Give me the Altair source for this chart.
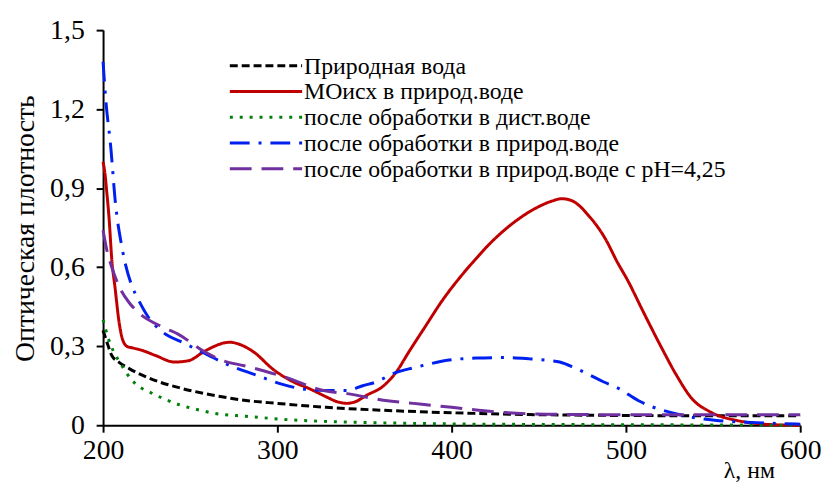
import altair as alt
import pandas as pd

series_names = [
    "Природная вода",
    "МОисх  в природ.воде",
    "после обработки в дист.воде",
    "после обработки в природ.воде",
    "после обработки в природ.воде с рН=4,25",
]
colors = ["#000000", "#c00000", "#00800a", "#0020f0", "#7030a0"]
dashes = [[8, 4], [1, 0], [3, 7], [20, 9, 3, 9], [22, 10]]

# Природная вода
wl_black = [200, 202, 205, 209, 215, 226, 245, 264, 282, 300, 328, 360, 413, 450, 500, 550, 600]
ab_black = [0.36, 0.32, 0.265, 0.24, 0.215, 0.18, 0.14, 0.113, 0.094, 0.083, 0.068, 0.057, 0.045, 0.04, 0.037, 0.036, 0.036]

# МОисх в природ.воде
wl_red = [200, 201, 202.2, 203.4, 205, 207, 209, 211, 213.6, 218, 222, 230, 241, 249, 258, 264, 269, 273,
          277, 286, 298, 309, 318, 328, 334, 340, 345, 351, 361, 368, 375.6, 385, 395, 404, 413, 422, 431,
          441, 450, 458, 463, 468, 473, 478, 483, 488, 495, 501, 510, 520, 529, 538, 548, 556, 563, 574,
          585, 600]
ab_red = [1.0, 0.96, 0.88, 0.79, 0.63, 0.515, 0.40, 0.33, 0.30, 0.292, 0.285, 0.265, 0.24, 0.245, 0.28,
          0.30, 0.312, 0.315, 0.31, 0.28, 0.21, 0.165, 0.14, 0.108, 0.09, 0.083, 0.09, 0.113, 0.15, 0.20,
          0.28, 0.376, 0.477, 0.555, 0.625, 0.69, 0.745, 0.795, 0.83, 0.852, 0.86, 0.855, 0.835, 0.80,
          0.76, 0.71, 0.62, 0.55, 0.43, 0.30, 0.19, 0.10, 0.052, 0.03, 0.019, 0.007, 0.002, 0.0]

# после обработки в дист.воде
wl_green = [200, 203, 206, 210, 216, 221, 226, 235, 245, 255, 264, 282, 309, 340, 370, 400, 450, 500, 550, 600]
ab_green = [0.40, 0.33, 0.28, 0.235, 0.175, 0.145, 0.128, 0.1, 0.075, 0.058, 0.045, 0.034, 0.02, 0.012,
            0.008, 0.005, 0.003, 0.002, 0.001, 0.0]

# после обработки в природ.воде
wl_blue = [200, 201.5, 204.5, 207, 211, 216.5, 220, 226, 233, 247, 256, 273, 288, 303, 318, 328, 340, 349,
           357, 366, 378, 385, 395, 414, 431, 445, 454, 462, 470, 478, 487, 496, 507, 515, 525, 535, 551,
           575, 600]
ab_blue = [1.38, 1.24, 1.05, 0.85, 0.67, 0.53, 0.48, 0.41, 0.36, 0.31, 0.28, 0.226, 0.19, 0.155, 0.135,
           0.132, 0.132, 0.15, 0.165, 0.195, 0.218, 0.229, 0.244, 0.255, 0.257, 0.252, 0.247, 0.24, 0.22,
           0.195, 0.165, 0.139, 0.094, 0.07, 0.05, 0.034, 0.019, 0.01, 0.004]

# после обработки в природ.воде с рН=4,25
wl_purple = [200, 202, 205, 209, 215, 220, 235, 243, 258, 269, 281, 292, 307, 322, 328, 340, 362, 378,
             400, 431, 454, 500, 550, 600]
ab_purple = [0.74, 0.67, 0.60, 0.53, 0.465, 0.43, 0.37, 0.346, 0.28, 0.245, 0.226, 0.207, 0.177, 0.14,
             0.13, 0.12, 0.094, 0.083, 0.068, 0.048, 0.042, 0.04, 0.04, 0.04]

rows = []
for name, wl, ab in zip(series_names,
                        [wl_black, wl_red, wl_green, wl_blue, wl_purple],
                        [ab_black, ab_red, ab_green, ab_blue, ab_purple]):
    for w, a in zip(wl, ab):
        rows.append({"series": name, "wl": w, "ab": a})
df = pd.DataFrame(rows)

legend_df = pd.DataFrame({"series": series_names, "idx": list(range(len(series_names)))})

FONT = "Liberation Serif"

color_scale = alt.Scale(domain=series_names, range=colors)
dash_scale = alt.Scale(domain=series_names, range=dashes)

lines = alt.Chart(df).mark_line(strokeWidth=3, interpolate="monotone").encode(
    x=alt.X("wl:Q",
            scale=alt.Scale(domain=[200, 600], nice=False, zero=False),
            axis=alt.Axis(values=[200, 300, 400, 500, 600], title="λ, нм",
                          titleAnchor="end", titleAlign="right", titleBaseline="alphabetic",
                          titleX=678, titleY=53, titleFontSize=24,
                          titleFontWeight="normal", titleFont=FONT,
                          labelFont=FONT, labelFontSize=28, labelPadding=5,
                          tickSize=7, tickColor="#000", domainColor="#000",
                          domainWidth=2, tickWidth=2, grid=False,
                          labelColor="#000", titleColor="#000", labelFlush=False)),
    y=alt.Y("ab:Q",
            scale=alt.Scale(domain=[0, 1.5], nice=False),
            axis=alt.Axis(values=[0, 0.3, 0.6, 0.9, 1.2, 1.5], title="Оптическая плотность",
                          labelExpr="datum.value == 0 ? '0' : replace(format(datum.value, '.1f'), '.', ',')",
                          titleFont=FONT, titleFontSize=28, titleFontWeight="normal",
                          titleX=-78, titleY=200, titleAngle=-90, titleAlign="center",
                          titleBaseline="middle",
                          labelFont=FONT, labelFontSize=28, labelPadding=12,
                          tickSize=7, tickColor="#000", domainColor="#000",
                          domainWidth=2, tickWidth=2, grid=False,
                          labelColor="#000", titleColor="#000")),
    color=alt.Color("series:N", scale=color_scale, legend=None),
    strokeDash=alt.StrokeDash("series:N", scale=dash_scale, legend=None),
    order=alt.Order("wl:Q"),
)

leg_y = alt.Y("idx:Q", scale=alt.Scale(domain=[0, 4], range=[36, 140]), axis=None)

leg_lines = alt.Chart(legend_df).mark_rule(strokeWidth=3).encode(
    x=alt.value(128),
    x2=alt.value(201),
    y=leg_y,
    color=alt.Color("series:N", scale=color_scale, legend=None),
    strokeDash=alt.StrokeDash("series:N", scale=dash_scale, legend=None),
)

leg_text = alt.Chart(legend_df).mark_text(
    align="left", baseline="middle", font=FONT, fontSize=24, color="#000000", dy=1
).encode(
    x=alt.value(203),
    y=leg_y,
    text="series:N",
)

chart = alt.layer(lines, leg_lines, leg_text).resolve_scale(
    y="independent"
).properties(
    width=704,
    height=399,
    autosize=alt.AutoSizeParams(type="none"),
    padding={"left": 96, "top": 20, "right": 22, "bottom": 58},
).configure_view(stroke=None)

chart.save("out.html", embed_options={"renderer": "svg", "actions": False})
